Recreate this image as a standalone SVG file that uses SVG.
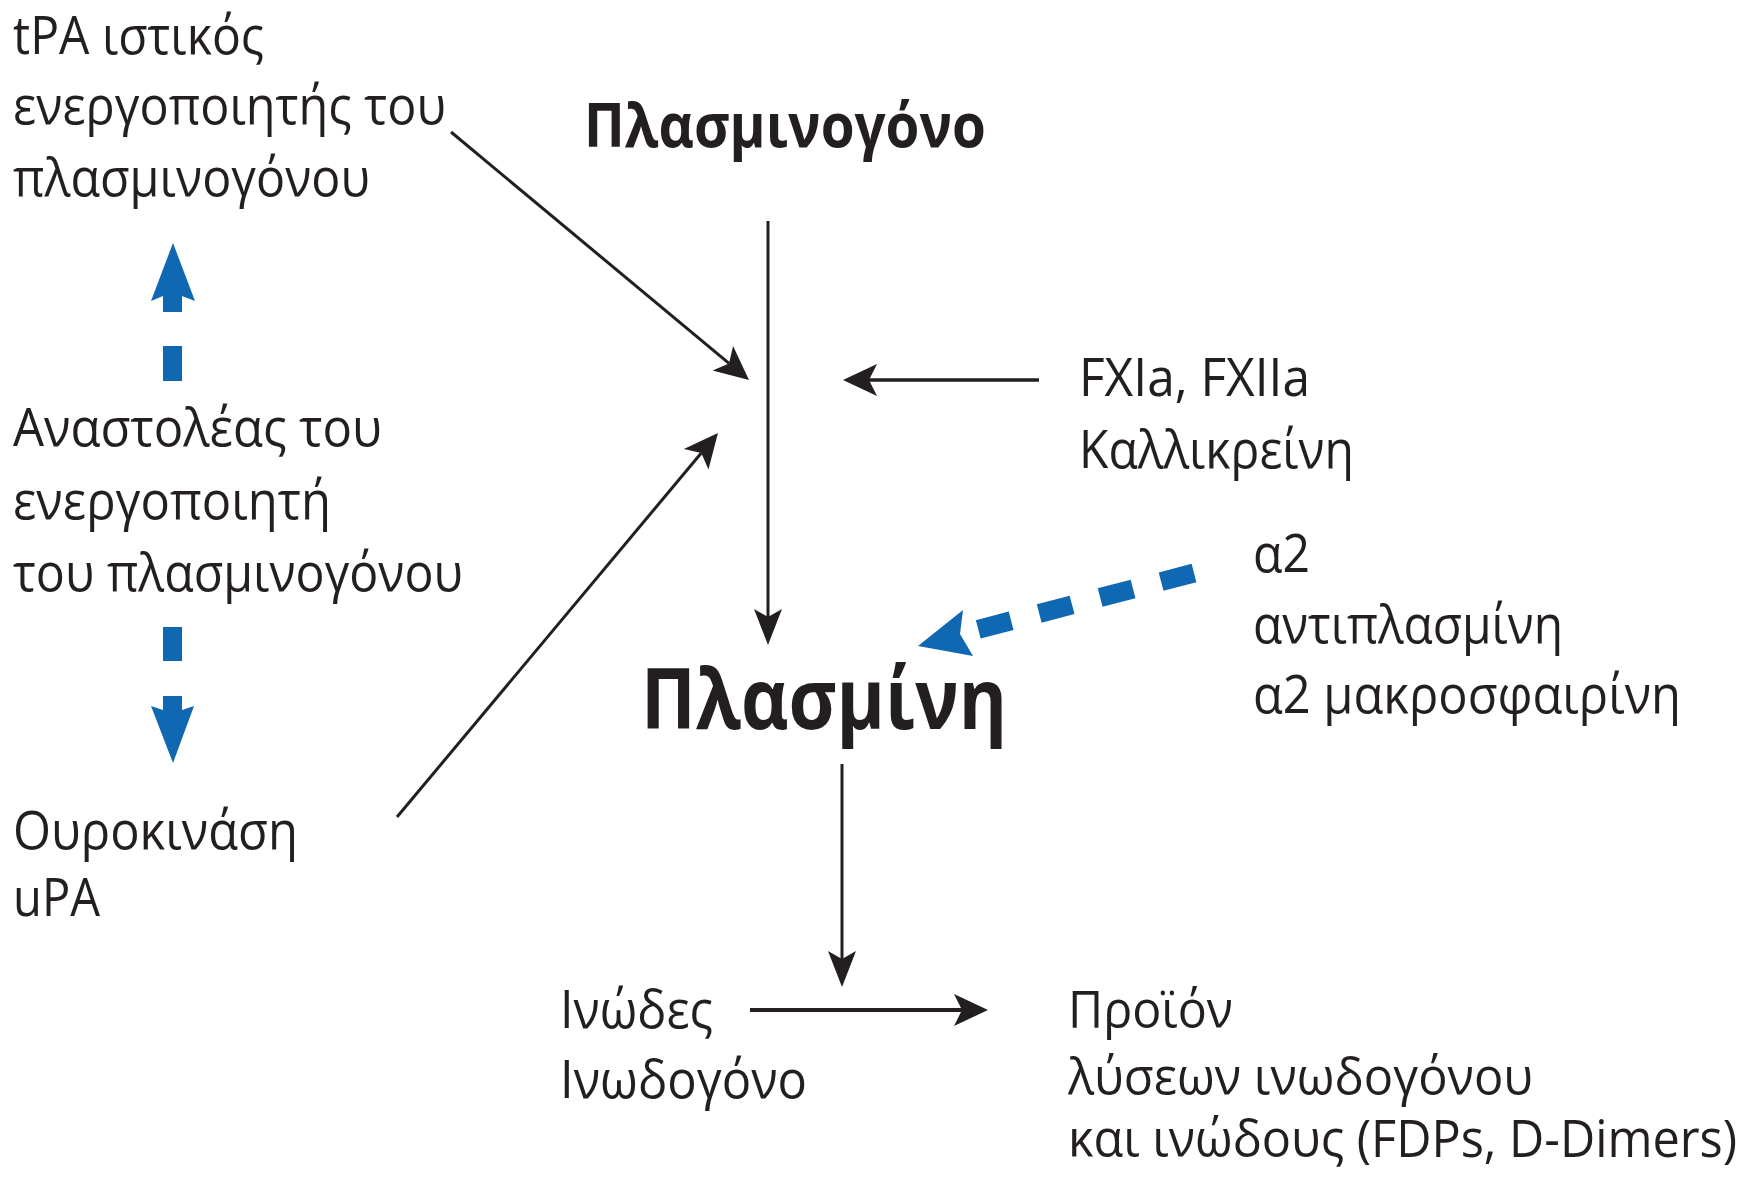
<svg xmlns="http://www.w3.org/2000/svg" width="1748" height="1179" viewBox="0 0 1748 1179">
<style>
  text { font-family: "Open Sans", "Noto Sans", "Liberation Sans", sans-serif; fill: #231f20; }
  .t { font-size: 53px; }
  .p { font-size: 51px; }
  .b { font-weight: bold; }
  .ln { stroke: #231f20; fill: none; }
  .blue { fill: #1067b2; }
</style>
<defs>
  <marker id="ah" markerUnits="userSpaceOnUse" markerWidth="44" markerHeight="40" viewBox="-10 -20 44 40" refX="0" refY="0" orient="auto">
    <path d="M26,0 L-8,-16 L0,0 L-8,16 Z" fill="#231f20"/>
  </marker>
  <marker id="ah2" markerUnits="userSpaceOnUse" markerWidth="44" markerHeight="40" viewBox="-10 -20 44 40" refX="0" refY="0" orient="auto">
    <path d="M28,0 L-8,-14 L0,0 L-8,14 Z" fill="#231f20"/>
  </marker>
</defs>
<rect width="1748" height="1179" fill="#ffffff"/>

<g id="connectors">
  <line class="ln" x1="451" y1="132" x2="729" y2="363.4" stroke-width="3" marker-end="url(#ah)"/>
  <line class="ln" x1="768" y1="221" x2="768" y2="617" stroke-width="3" marker-end="url(#ah2)"/>
  <line class="ln" x1="1039" y1="380" x2="869" y2="380" stroke-width="3.5" marker-end="url(#ah)"/>
  <line class="ln" x1="397" y1="817" x2="701.3" y2="453" stroke-width="3" marker-end="url(#ah)"/>
  <line class="ln" x1="842" y1="764" x2="842" y2="959" stroke-width="3" marker-end="url(#ah2)"/>
  <line class="ln" x1="750" y1="1010" x2="962" y2="1010" stroke-width="4" marker-end="url(#ah)"/>
  <g id="blue-up">
    <polygon class="blue" points="173,243 195,301 182,296 182,312 163,312 163,296 151,301"/>
    <rect class="blue" x="163" y="346" width="19" height="35"/>
  </g>
  <g id="blue-down">
    <rect class="blue" x="163" y="627" width="19" height="34"/>
    <polygon class="blue" points="163,696 182,696 182,710 194,706 173,763 151,706 163,710"/>
  </g>
  <g id="blue-diag">
    <line x1="1194" y1="573" x2="976" y2="630" stroke="#1067b2" stroke-width="19" stroke-dasharray="34 29"/>
    <polygon class="blue" points="918,646 963,610 960,634 973,656"/>
  </g>
</g>

<g id="tpa">
  <text class="t" x="13" y="54" textLength="251" lengthAdjust="spacingAndGlyphs">tPA ιστικός</text>
  <text class="t" x="13" y="124" textLength="433" lengthAdjust="spacingAndGlyphs">ενεργοποιητής του</text>
  <text class="t" x="13" y="196" textLength="357" lengthAdjust="spacingAndGlyphs">πλασμινογόνου</text>
</g>
<g id="inhibitor">
  <text class="t" x="13" y="446" textLength="369" lengthAdjust="spacingAndGlyphs">Αναστολέας του</text>
  <text class="t" x="13" y="519" textLength="318" lengthAdjust="spacingAndGlyphs">ενεργοποιητή</text>
  <text class="t" x="13" y="591" textLength="450" lengthAdjust="spacingAndGlyphs">του πλασμινογόνου</text>
</g>
<g id="urokinase">
  <text class="t" x="13" y="849" textLength="285" lengthAdjust="spacingAndGlyphs">Ουροκινάση</text>
  <text class="t" x="13" y="916" textLength="87" lengthAdjust="spacingAndGlyphs">uPA</text>
</g>
<g id="plasminogen">
  <text class="b" x="584" y="147" font-size="61" textLength="402" lengthAdjust="spacingAndGlyphs">Πλασμινογόνο</text>
</g>
<g id="fxia">
  <text class="t" x="1079" y="396" textLength="231" lengthAdjust="spacingAndGlyphs">FXIa, FXIIa</text>
  <text class="t" x="1079" y="468" textLength="275" lengthAdjust="spacingAndGlyphs">Καλλικρείνη</text>
</g>
<g id="plasmin">
  <text class="b" x="641" y="729" font-size="84" textLength="366" lengthAdjust="spacingAndGlyphs">Πλασμίνη</text>
</g>
<g id="antiplasmin">
  <text class="t" x="1253" y="572" textLength="57" lengthAdjust="spacingAndGlyphs">α2</text>
  <text class="t" x="1253" y="643" textLength="310" lengthAdjust="spacingAndGlyphs">αντιπλασμίνη</text>
  <text class="t" x="1253" y="713" textLength="428" lengthAdjust="spacingAndGlyphs">α2 μακροσφαιρίνη</text>
</g>
<g id="fibrin">
  <text class="t" x="560" y="1028" textLength="153" lengthAdjust="spacingAndGlyphs">Ινώδες</text>
  <text class="t" x="560" y="1098" textLength="247" lengthAdjust="spacingAndGlyphs">Ινωδογόνο</text>
</g>
<g id="products">
  <text class="p" x="1068" y="1028" textLength="165" lengthAdjust="spacingAndGlyphs">Προϊόν</text>
  <text class="p" x="1068" y="1095" textLength="465" lengthAdjust="spacingAndGlyphs">λύσεων ινωδογόνου</text>
  <text class="p" x="1068" y="1157" font-size="49" textLength="669" lengthAdjust="spacingAndGlyphs">και ινώδους (FDPs, D-Dimers)</text>
</g>
</svg>
